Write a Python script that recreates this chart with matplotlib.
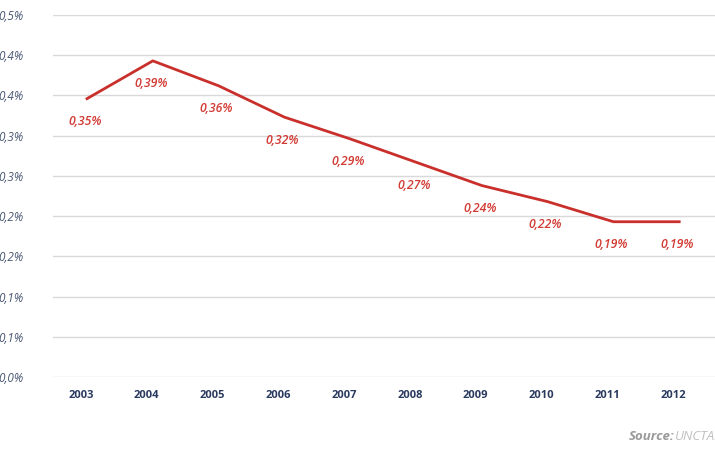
import matplotlib
matplotlib.use('Agg')
import matplotlib.pyplot as plt

plt.rcParams['font.family'] = ['Open Sans', 'DejaVu Sans']

years = ['2003', '2004', '2005', '2006', '2007', '2008', '2009', '2010', '2011', '2012']
share = [0.346, 0.393, 0.362, 0.323, 0.296, 0.267, 0.238, 0.218, 0.193, 0.193]
share_labels = ['0,35%', '0,39%', '0,36%', '0,32%', '0,29%', '0,27%', '0,24%', '0,22%', '0,19%', '0,19%']
y_ticks = [0.0, 0.05, 0.10, 0.15, 0.20, 0.25, 0.30, 0.35, 0.40, 0.45]
y_tick_labels = ['0,0%', '0,1%', '0,1%', '0,2%', '0,2%', '0,3%', '0,3%', '0,4%', '0,4%', '0,5%']

red = '#c9302c'
W, H = 715, 450
fig = plt.figure(figsize=(W / 100, H / 100), dpi=100)
ax = fig.add_axes([53 / W, 1 - 377 / H, 1 - 53 / W, (377 - 15) / H])

x = list(range(len(years)))
ax.plot(x, share, color=red, linewidth=2, solid_joinstyle='round', zorder=3)
for xi, v, lab in zip(x, share, share_labels):
    ax.annotate(lab, (xi, v), xytext=(-1.5, -16.5), textcoords='offset points',
                ha='center', va='center', fontsize=8.8, style='italic',
                fontweight='semibold', color='#d23b34')

ax.set_xlim(-0.517, 9.544)
ax.set_ylim(0, 0.45)
ax.set_yticks(y_ticks)
ax.set_yticklabels(y_tick_labels, fontsize=8.5, style='italic', color='#4a5875')
# year labels sit a few pixels left of the points
ax.set_xticks([xi - 0.095 for xi in x])
ax.set_xticklabels(years, fontsize=8, fontweight='bold', color='#2a3a5e')
ax.tick_params(axis='y', length=0, pad=21.5)
ax.tick_params(axis='x', length=0, pad=9)
ax.grid(axis='y', color='#d9d9d9', linewidth=1)
ax.set_axisbelow(True)
for s in ax.spines.values():
    s.set_visible(False)

fig.text(629 / W, 1 - 437 / H, 'Source:', fontsize=9.5, style='italic',
         fontweight='bold', color='#9a9a9a', va='center', ha='left')
fig.text(675 / W, 1 - 437 / H, 'UNCTAD', fontsize=9.5, style='italic',
         color='#c0c0c0', va='center', ha='left')

fig.savefig('out.png', dpi=100)
